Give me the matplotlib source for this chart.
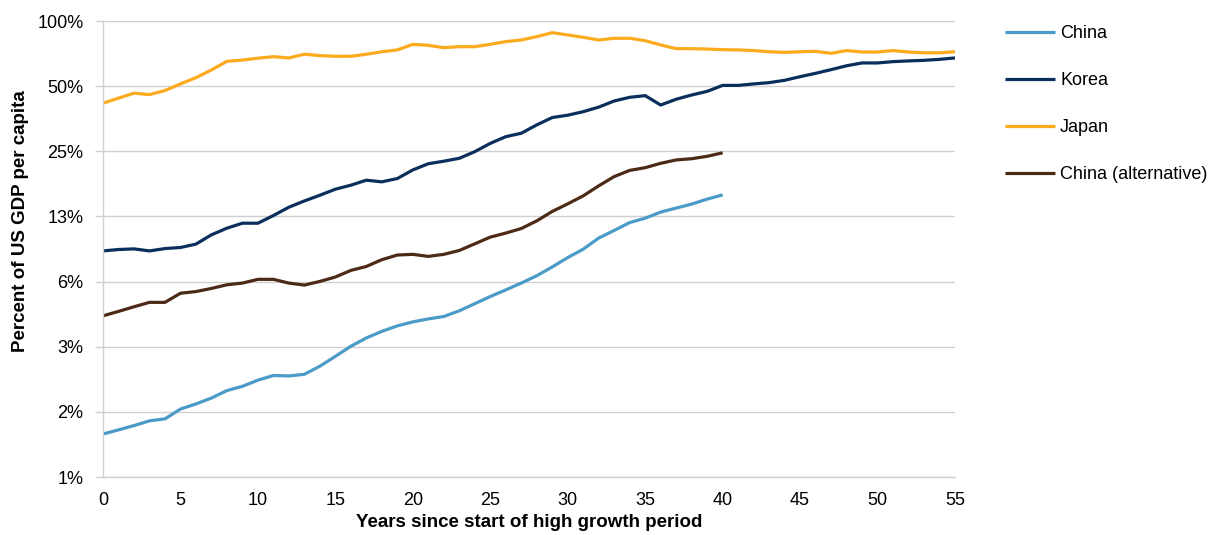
"""Catch-up paths: GDP per capita relative to the US, log scale."""

import matplotlib

matplotlib.use("Agg")
import matplotlib.pyplot as plt
from matplotlib.ticker import FixedLocator, NullLocator

plt.rcParams["font.family"] = ["Liberation Sans", "DejaVu Sans"]

# percent of US GDP per capita, by years since start of high-growth period
years_long = list(range(56))
years_short = list(range(41))

japan = [41.7, 44.0, 46.4, 45.7, 47.7, 51.2, 54.7, 59.4, 65.1, 66.0,
         67.3, 68.4, 67.5, 70.2, 69.2, 68.7, 68.7, 70.2, 72.1, 73.5,
         78.0, 77.2, 75.3, 76.1, 76.1, 78.0, 80.3, 81.7, 84.7, 88.3,
         86.2, 84.1, 81.7, 83.2, 83.2, 81.1, 77.5, 74.5, 74.5, 74.2,
         73.7, 73.5, 73.0, 72.1, 71.6, 72.1, 72.4, 70.9, 73.0, 71.9,
         71.9, 73.0, 71.9, 71.3, 71.3, 72.1]

korea = [8.66, 8.79, 8.85, 8.66, 8.88, 8.98, 9.31, 10.28, 11.03, 11.63,
         11.63, 12.62, 13.79, 14.74, 15.66, 16.70, 17.43, 18.38, 18.06, 18.71,
         20.5, 21.9, 22.5, 23.2, 24.9, 27.2, 29.2, 30.3, 33.1, 35.8,
         36.7, 38.1, 40.0, 42.7, 44.4, 45.2, 40.9, 43.5, 45.5, 47.3,
         50.4, 50.4, 51.2, 51.9, 53.2, 55.3, 57.3, 59.6, 62.1, 64.0,
         64.0, 64.9, 65.4, 65.8, 66.5, 67.5]

china = [1.234, 1.29, 1.35, 1.42, 1.45, 1.61, 1.70, 1.81, 1.96, 2.05,
         2.19, 2.30, 2.29, 2.33, 2.54, 2.82, 3.14, 3.43, 3.68, 3.90,
         4.07, 4.20, 4.31, 4.58, 4.94, 5.33, 5.72, 6.15, 6.65, 7.3,
         8.07, 8.82, 9.93, 10.77, 11.71, 12.27, 13.09, 13.66, 14.25, 15.03,
         15.72]

china_alt = [4.34, 4.55, 4.78, 5.01, 5.01, 5.52, 5.62, 5.81, 6.04, 6.15,
             6.40, 6.40, 6.15, 6.02, 6.26, 6.56, 7.04, 7.34, 7.89, 8.29,
             8.35, 8.17, 8.35, 8.7, 9.34, 10.03, 10.47, 10.99, 11.92, 13.18,
             14.29, 15.56, 17.31, 19.1, 20.4, 21.0, 22.0, 22.8, 23.1, 23.7,
             24.6]

y_ticks = [100 / 2 ** k for k in range(8)]
y_labels = ["100%", "50%", "25%", "13%", "6%", "3%", "2%", "1%"]
x_ticks = list(range(0, 56, 5))

LIGHT_BLUE = "#4A9BC7"
NAVY = "#0A2F5C"
ORANGE = "#FDAB1E"
BROWN = "#4D2A17"
GRID = "#d0d0d0"
FS = 13

fig = plt.figure(figsize=(12.11, 5.35), dpi=100)
ax = fig.add_axes([103 / 1211, 58 / 535, 852 / 1211, 456 / 535])

lw = 2.3
ax.plot(years_short, china, color=LIGHT_BLUE, lw=lw, label="China", solid_capstyle="butt")
ax.plot(years_long, korea, color=NAVY, lw=lw, label="Korea", solid_capstyle="butt")
ax.plot(years_long, japan, color=ORANGE, lw=lw, label="Japan", solid_capstyle="butt")
ax.plot(years_short, china_alt, color=BROWN, lw=lw, label="China (alternative)", solid_capstyle="butt")

ax.set_yscale("log", base=2)
ax.set_ylim(100 / 128, 100)
ax.set_xlim(0, 55)
ax.yaxis.set_major_locator(FixedLocator(y_ticks))
ax.set_yticklabels(y_labels)
ax.yaxis.set_minor_locator(NullLocator())
ax.set_xticks(x_ticks)

ax.grid(axis="y", color=GRID, lw=1.0)
ax.set_axisbelow(True)
for s in ["top", "right"]:
    ax.spines[s].set_visible(False)
for s in ["left", "bottom"]:
    ax.spines[s].set_color(GRID)
    ax.spines[s].set_linewidth(1.0)

ax.tick_params(axis="y", length=6, width=1.0, color=GRID, pad=8, labelsize=FS)
ax.tick_params(axis="x", length=0, pad=11, labelsize=FS)

ax.set_ylabel("Percent of US GDP per capita", fontsize=13.5, weight="bold")
ax.yaxis.set_label_coords(-0.087, 0.561)
ax.set_xlabel("Years since start of high growth period", fontsize=13.5, weight="bold")
ax.xaxis.set_label_coords(0.5, -0.081)

fig.legend(loc="upper left", bbox_to_anchor=(1005 / 1211, 1 - 25 / 535), frameon=False,
           fontsize=FS, handlelength=2.77, handletextpad=0.28, labelspacing=1.67,
           borderaxespad=0, borderpad=0)

fig.savefig("out.png", dpi=100)
plt.close()
